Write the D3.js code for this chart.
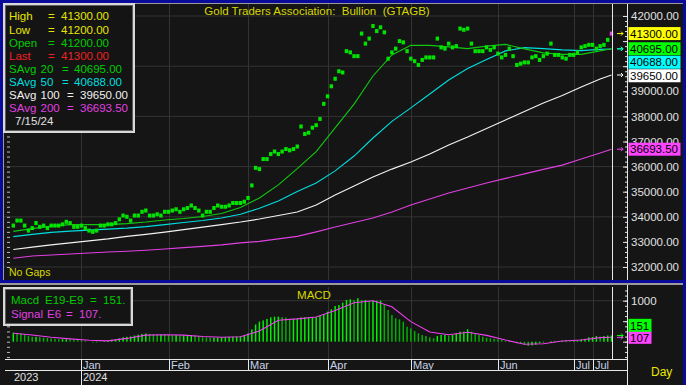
<!DOCTYPE html>
<html>
<head>
<meta charset="utf-8">
<script src="https://cdn.jsdelivr.net/npm/d3@7"></script>
<style>
  body { margin: 0; background: #151515; }
  svg { display: block; font-family: "Liberation Sans", Arial, sans-serif; }
  text { white-space: pre; }
</style>
</head>
<body>
<svg id="chart" width="686" height="385"></svg>
<script>
// ---- data ----
// one daily close per weekday, 6 Dec 2023 .. 15 Jul 2024
const closes = [
  // Dec
  33650, 33850, 33850, 33650, 33450, 33550, 33750, 33600, 33650, 33550, 33650, 33650, 33650, 33700, 33800, 33750, 33600, 33600,
  // Jan
  33650, 33550, 33450, 33400, 33450, 33650, 33650, 33700, 33700, 33750, 33900, 34050, 34000, 33850, 34050, 34050, 34200, 34250, 34050, 34050, 34100, 34050, 34200,
  // Feb
  34200, 34250, 34300, 34200, 34300, 34350, 34450, 34350, 34250, 34050, 34200, 34200, 34350, 34450, 34400, 34400, 34450, 34550, 34550, 34550, 34600,
  // Mar
  34750, 35250, 35950, 35900, 36300, 36300, 36500, 36600, 36500, 36600, 36700, 36650, 36700, 36800, 37600, 37300, 37350, 37550, 37650, 37900, 38500,
  // Apr
  38800, 39200, 39500, 39800, 39750, 40600, 40550, 40400, 40400, 41300, 40900, 41100, 41600, 41400, 41550, 41350, 40300, 40550, 40700, 41000, 40950, 40600,
  // May
  40300, 40200, 40050, 40250, 40350, 40350, 40350, 41100, 40750, 40700, 40900, 40750, 40800, 41500, 41450, 41500, 40900, 40600, 40600, 40600, 40750, 40650, 40750,
  // Jun
  40500, 40350, 40450, 40700, 40400, 40050, 40100, 40150, 40150, 40350, 40400, 40250, 40400, 40500, 40900, 40450, 40450, 40350, 40300, 40450,
  // Jul
  40450, 40550, 40750, 40800, 40850, 40850, 40700, 40800, 40850, 41050, 41300
];

// moving averages, read every 5th day
const maIdx = [0, 5, 10, 15, 20, 25, 30, 35, 40, 45, 50, 55, 60, 65, 70, 75, 80, 85, 90, 95, 100, 105, 110, 115, 120, 125, 130, 135, 140, 145, 150, 155, 158];
const sAvg20 = [33420, 33530, 33630, 33690, 33690, 33690, 33730, 33790, 33870, 33930, 34010, 34130, 34370, 34750, 35270, 35920, 36600, 37540, 38490, 39610, 40450, 40830, 40830, 40770, 40700, 40800, 40870, 40690, 40530, 40470, 40470, 40610, 40695];
const sAvg50 = [33210, 33300, 33380, 33430, 33470, 33510, 33550, 33610, 33690, 33770, 33850, 33950, 34100, 34340, 34630, 35010, 35350, 35830, 36420, 37140, 37800, 38340, 38890, 39450, 39910, 40270, 40610, 40740, 40700, 40650, 40620, 40670, 40688];
const sAvg100 = [32700, 32790, 32880, 32960, 33040, 33120, 33220, 33300, 33390, 33490, 33590, 33690, 33790, 33910, 34050, 34190, 34470, 34870, 35230, 35590, 35900, 36180, 36500, 36860, 37180, 37520, 37860, 38200, 38530, 38830, 39170, 39490, 39650];
const sAvg200 = [32350, 32440, 32480, 32520, 32560, 32600, 32630, 32670, 32720, 32770, 32820, 32880, 32960, 33020, 33120, 33220, 33400, 33590, 33770, 33950, 34190, 34470, 34710, 34950, 35150, 35350, 35530, 35710, 35890, 36060, 36300, 36540, 36693.5];

// MACD histogram (daily) and signal (every 5th day)
const macd = [
  220, 215, 200, 170, 140, 120, 120, 110, 100, 90, 80, 70, 60, 60, 60, 55, 45, 40,
  30, 20, 0, -20, -15, 5, 20, 40, 50, 60, 80, 110, 120, 130, 150, 170, 190, 200, 190, 180, 170, 175, 170,
  165, 160, 160, 150, 150, 155, 160, 150, 130, 110, 105, 100, 100, 100, 105, 110, 115, 120, 125, 130, 140,
  200, 300, 420, 490, 520, 555, 595, 610, 610, 600, 590, 560, 560, 570, 590, 595, 600, 600, 600, 627, 676,
  732, 790, 871, 895, 952, 1017, 1035, 1017, 1059, 1017, 1017, 1000, 1000, 1000, 1000, 895, 773, 651, 571, 546, 488, 366,
  327, 261, 205, 163, 139, 107, 83, 139, 163, 163, 150, 163, 205, 244, 244, 303, 244, 205, 163, 122, 100, 83, 70,
  59, 40, 17, 17, -7, -39, -56, -80, -105, -90, -70, -39, -20, 0, 17, 20, 20, 25, 30, 25,
  30, 30, 59, 70, 107, 115, 139, 125, 139, 150, 151
];
const signal = [205, 165, 110, 70, 35, 20, 80, 160, 170, 160, 125, 107, 120, 260, 525, 556, 603, 760, 950, 1000, 850, 490, 235, 168, 230, 155, 40, -62, -50, 18, 40, 100, 107];

// date axis
const monthLabels = ['Jan', 'Feb', 'Mar', 'Apr', 'May', 'Jun', 'Jul', 'Jul'];
const monthStart = [18, 41, 62, 83, 105, 128, 148, 153];
const yearLabels = ['2023', '2024'];
const yearStart = [0, 18];

// legend / last values
const last = { high: 41300, low: 41200, open: 41200, last: 41300 };
const macdLast = 151, signalLast = 107;

// ---- layout ----
const svg = d3.select('#chart');
const W = 686, H = 385;
const main = { left: 4, right: 627, top: 4, bottom: 280 };
const sub = { top: 287, bottom: 359 };
const axisX = 627;
const cursorX = 612.5;
const font = '"Liberation Sans", Arial, sans-serif';

const x = d3.scaleLinear().domain([0, closes.length - 1]).range([13.3, 611.5]);
const y = d3.scaleLinear().domain([32000, 42000]).range([267, 16]);
const yM = d3.scaleLinear().domain([0, 1000]).range([341.7, 300.7]);

svg.append('rect').attr('width', W).attr('height', H).attr('fill', '#151515');

const defs = svg.append('defs');
defs.append('clipPath').attr('id', 'clipMain').append('rect')
  .attr('x', main.left).attr('y', main.top).attr('width', main.right - main.left).attr('height', main.bottom - main.top);
defs.append('clipPath').attr('id', 'clipSub').append('rect')
  .attr('x', main.left).attr('y', sub.top).attr('width', main.right - main.left).attr('height', sub.bottom - sub.top);

const gridColor = '#333333';

// grid lines
const gMain = svg.append('g').attr('clip-path', 'url(#clipMain)');
gMain.selectAll('line.hg').data(d3.range(32000, 42001, 2000)).enter().append('line')
  .attr('x1', main.left).attr('x2', axisX).attr('y1', d => y(d)).attr('y2', d => y(d))
  .attr('stroke', gridColor).attr('stroke-width', 1);
gMain.selectAll('line.vg').data(monthStart).enter().append('line')
  .attr('x1', d => Math.round(x(d)) + 0.5).attr('x2', d => Math.round(x(d)) + 0.5)
  .attr('y1', main.top).attr('y2', main.bottom)
  .attr('stroke', gridColor);

const gSub = svg.append('g').attr('clip-path', 'url(#clipSub)');
gSub.selectAll('line.hg').data([1000]).enter().append('line')
  .attr('x1', main.left).attr('x2', axisX).attr('y1', d => yM(d)).attr('y2', d => yM(d))
  .attr('stroke', gridColor);
gSub.selectAll('line.vg').data(monthStart).enter().append('line')
  .attr('x1', d => Math.round(x(d)) + 0.5).attr('x2', d => Math.round(x(d)) + 0.5)
  .attr('y1', sub.top).attr('y2', sub.bottom)
  .attr('stroke', gridColor);

// moving average lines
const maLine = d3.line().x((d, i) => x(maIdx[i])).y(d => y(d));
const maSeries = [
  { data: sAvg200, color: '#e040e0' },
  { data: sAvg100, color: '#f2f2f2' },
  { data: sAvg50, color: '#00dede' },
  { data: sAvg20, color: '#10c810' }
];
gMain.selectAll('path.ma').data(maSeries).enter().append('path')
  .attr('d', d => maLine(d.data))
  .attr('fill', 'none').attr('stroke', d => d.color).attr('stroke-width', 1.1);

// daily price marks
gMain.selectAll('rect.px').data(closes).enter().append('rect')
  .attr('x', (d, i) => x(i) - 1.7)
  .attr('y', d => y(d) - 2)
  .attr('width', 3.4).attr('height', 4)
  .attr('fill', (d, i) => i === closes.length - 1 ? '#e050e0' : '#00e400');

// MACD histogram + signal
gSub.selectAll('rect.h').data(macd).enter().append('rect')
  .attr('x', (d, i) => x(i) - 0.75)
  .attr('y', d => yM(Math.max(0, d)))
  .attr('width', 1.5)
  .attr('height', d => Math.abs(yM(d) - yM(0)))
  .attr('fill', (d, i) => (i === 0 || d >= macd[i - 1]) ? '#00f000' : '#00b000');
gSub.append('path')
  .attr('d', d3.line().x((d, i) => x(maIdx[i])).y(d => yM(d))(signal))
  .attr('fill', 'none').attr('stroke', '#f040f0').attr('stroke-width', 1.1);

// cursor line
[[main.top, main.bottom], [sub.top, sub.bottom]].forEach(([a, b]) => {
  svg.append('line').attr('x1', cursorX).attr('x2', cursorX).attr('y1', a).attr('y2', b)
    .attr('stroke', '#e8e8e8').attr('stroke-width', 1);
});

// value flags on the right axis: stack them so they do not overlap
function layoutFlags(items, dir) {
  items.sort((a, b) => dir > 0 ? a.y - b.y : b.y - a.y);
  let prev = null;
  items.forEach(it => {
    let c = it.y;
    if (prev !== null) {
      if (dir > 0 && c < prev + 13.5) c = prev + 13.5;
      if (dir < 0 && c > prev - 12) c = prev - 12;
    }
    it.c = c; prev = c;
  });
  return items;
}
const fmt2 = d3.format('.2f');
const lastOf = a => a[a.length - 1];
const mainFlags = layoutFlags([
  { y: y(last.last), label: fmt2(last.last), bg: '#ffff00', w: 52 },
  { y: y(lastOf(sAvg20)), label: fmt2(lastOf(sAvg20)), bg: '#00ff00', w: 52 },
  { y: y(lastOf(sAvg50)), label: fmt2(lastOf(sAvg50)), bg: '#00ffff', w: 52 },
  { y: y(lastOf(sAvg100)), label: fmt2(lastOf(sAvg100)), bg: '#ffffff', w: 52 },
  { y: y(lastOf(sAvg200)), label: fmt2(lastOf(sAvg200)), bg: '#ff44ff', w: 52 }
], 1);
const subFlags = layoutFlags([
  { y: yM(signalLast), label: String(signalLast), bg: '#ff44ff', w: 23 },
  { y: yM(macdLast), label: String(macdLast), bg: '#00ff00', w: 23 }
], -1);
// an axis label is hidden when a flag sits on it or flags close in from both sides
const covered = (yy, flags) =>
  flags.some(f => Math.abs(f.c - yy) < 6) ||
  (flags.some(f => f.c < yy && yy - f.c < 14) && flags.some(f => f.c > yy && f.c - yy < 14));

// right price axis
const axisColor = '#e0e0e0';
function styleAxis(g) {
  g.select('.domain').remove();
  g.selectAll('line').attr('stroke', axisColor);
  g.selectAll('text').attr('fill', axisColor).attr('font-size', 11.5).attr('font-family', font);
}
svg.append('g').attr('transform', `translate(${axisX},0)`)
  .call(d3.axisRight(y).tickValues(d3.range(32000, 42001, 200)).tickSizeInner(-2).tickSizeOuter(0).tickFormat(''))
  .call(styleAxis);
svg.append('g').attr('transform', `translate(${axisX},0)`)
  .call(d3.axisRight(y).tickValues(d3.range(32000, 42001, 1000)).tickSizeInner(-4).tickSizeOuter(0).tickPadding(4)
    .tickFormat(d => covered(y(d), mainFlags) ? '' : fmt2(d)))
  .call(styleAxis);

// MACD axis
svg.append('g').attr('transform', `translate(${axisX},0)`)
  .call(d3.axisRight(yM).tickValues(d3.range(-375, 1251, 125)).tickSizeInner(-2).tickSizeOuter(0).tickFormat(''))
  .call(styleAxis);
svg.append('g').attr('transform', `translate(${axisX},0)`)
  .call(d3.axisRight(yM).tickValues([0, 500, 1000]).tickSizeInner(-4).tickSizeOuter(0).tickPadding(4)
    .tickFormat(d => covered(yM(d), subFlags) ? '' : String(d)))
  .call(styleAxis);

// left edge ticks
[[y, d3.range(32000, 42001, 200)], [yM, d3.range(-375, 1251, 125)]].forEach(([sc, vals]) => {
  const g = svg.append('g').attr('transform', 'translate(7,0)')
    .call(d3.axisLeft(sc).tickValues(vals).tickSizeInner(-3).tickSizeOuter(0).tickFormat(''));
  g.select('.domain').remove();
  g.selectAll('line').attr('stroke', '#bbbbbb');
});

// axis line full height
svg.append('line').attr('x1', axisX + 0.5).attr('x2', axisX + 0.5).attr('y1', 4).attr('y2', H)
  .attr('stroke', '#e8e8e8');

// draw flags
[...mainFlags, ...subFlags].forEach(it => {
  svg.append('path')
    .attr('d', `M617,${it.y}h6m-2,-2l2,2l-2,2`)
    .attr('stroke', it.bg).attr('fill', 'none').attr('stroke-width', 1);
  svg.append('rect').attr('x', 628.5).attr('y', it.c - 6.5).attr('width', it.w).attr('height', 13)
    .attr('fill', it.bg);
  svg.append('text').attr('x', 630).attr('y', it.c + 4.2).attr('font-size', 11.5)
    .attr('fill', '#000').text(it.label);
});

// date axis
const dateLine = (yy) => svg.append('line').attr('x1', 5).attr('x2', axisX).attr('y1', yy).attr('y2', yy)
  .attr('stroke', '#e8e8e8');
dateLine(359.5);
dateLine(370.5);
svg.selectAll('line.mt').data(monthStart).enter().append('line')
  .attr('x1', d => Math.round(x(d)) + 0.5).attr('x2', d => Math.round(x(d)) + 0.5)
  .attr('y1', 359.5).attr('y2', d => yearStart.includes(d) ? H : 370.5)
  .attr('stroke', '#e8e8e8');
svg.selectAll('text.mt').data(monthLabels).enter().append('text')
  .attr('x', (d, i) => Math.round(x(monthStart[i])) + 2)
  .attr('y', 369).attr('font-size', 11).attr('fill', '#c8d2e6').text(d => d);
svg.selectAll('text.yr').data(yearLabels).enter().append('text')
  .attr('x', (d, i) => i === 0 ? 14 : Math.round(x(yearStart[i])) + 2)
  .attr('y', 381).attr('font-size', 11).attr('fill', '#e0e0e0').text(d => d);
svg.append('text').attr('x', 651).attr('y', 376).attr('font-size', 12).attr('fill', '#e8e800').text('Day');

// titles
svg.append('text').attr('x', 317).attr('y', 15).attr('text-anchor', 'middle')
  .attr('font-size', 11.5).attr('fill', '#d8d800').text('Gold Traders Association:  Bullion  (GTAGB)');
svg.append('text').attr('x', 314).attr('y', 299).attr('text-anchor', 'middle')
  .attr('font-size', 11.5).attr('fill', '#d8d800').text('MACD');
svg.append('text').attr('x', 9).attr('y', 276).attr('font-size', 10.5).attr('fill', '#d8d800').text('No Gaps');

// frame: blue borders and grey lines
const blue = '#0a0a9a', grey = '#9a9a9a';
svg.append('rect').attr('x', 0).attr('y', 0).attr('width', W).attr('height', 3).attr('fill', blue);
svg.append('rect').attr('x', 0).attr('y', 3).attr('width', W).attr('height', 1).attr('fill', grey);
svg.append('rect').attr('x', 0).attr('y', 280).attr('width', W).attr('height', 3).attr('fill', blue);
svg.append('rect').attr('x', 0).attr('y', 283).attr('width', W).attr('height', 2).attr('fill', grey);
svg.append('rect').attr('x', 0).attr('y', 0).attr('width', 3).attr('height', 283).attr('fill', blue);
svg.append('rect').attr('x', 3).attr('y', 4).attr('width', 1).attr('height', 276).attr('fill', grey);
svg.append('rect').attr('x', W - 3).attr('y', 0).attr('width', 3).attr('height', H).attr('fill', blue);

// legend boxes
function legendBox(x0, y0, w, h, rows) {
  svg.append('rect').attr('x', x0).attr('y', y0).attr('width', w).attr('height', h)
    .attr('fill', '#141414').attr('stroke', '#d8d8d8').attr('stroke-width', 2);
  svg.append('rect').attr('x', x0 + 1.5).attr('y', y0 + 1.5).attr('width', w - 3).attr('height', h - 3)
    .attr('fill', 'none').attr('stroke', '#707070').attr('stroke-width', 0.8);
  rows.forEach(r => {
    const t = svg.append('text').attr('y', r.y).attr('font-size', 11.5).attr('fill', r.color);
    r.parts.forEach(([px, s]) => t.append('tspan').attr('x', px).text(s));
  });
}
legendBox(4, 4, 130, 128, [
  { y: 20, color: '#e6e600', parts: [[9, 'High'], [48, '='], [61, fmt2(last.high)]] },
  { y: 34, color: '#e6e600', parts: [[9, 'Low'], [48, '='], [61, fmt2(last.low)]] },
  { y: 47, color: '#00cc00', parts: [[9, 'Open'], [48, '='], [61, fmt2(last.open)]] },
  { y: 60, color: '#ee2222', parts: [[9, 'Last'], [48, '='], [61, fmt2(last.last)]] },
  { y: 73, color: '#00cc00', parts: [[9, 'SAvg'], [40.5, '20'], [62, '='], [74, fmt2(lastOf(sAvg20))]] },
  { y: 86, color: '#00dede', parts: [[9, 'SAvg'], [40.5, '50'], [62, '='], [74, fmt2(lastOf(sAvg50))]] },
  { y: 99, color: '#f0f0f0', parts: [[9, 'SAvg'], [40.5, '100'], [67, '='], [80, fmt2(lastOf(sAvg100))]] },
  { y: 112, color: '#e040e0', parts: [[9, 'SAvg'], [40.5, '200'], [67, '='], [80, fmt2(lastOf(sAvg200))]] },
  { y: 125, color: '#e0e0e0', parts: [[15, '7/15/24']] }
]);
legendBox(4, 288, 128, 37, [
  { y: 304, color: '#00cc00', parts: [[11, 'Macd'], [45, 'E19-E9'], [90, '='], [103, macdLast + '.']] },
  { y: 318, color: '#e040e0', parts: [[11, 'Signal'], [47, 'E6'], [66, '='], [79, signalLast + '.']] }
]);
</script>
</body>
</html>
